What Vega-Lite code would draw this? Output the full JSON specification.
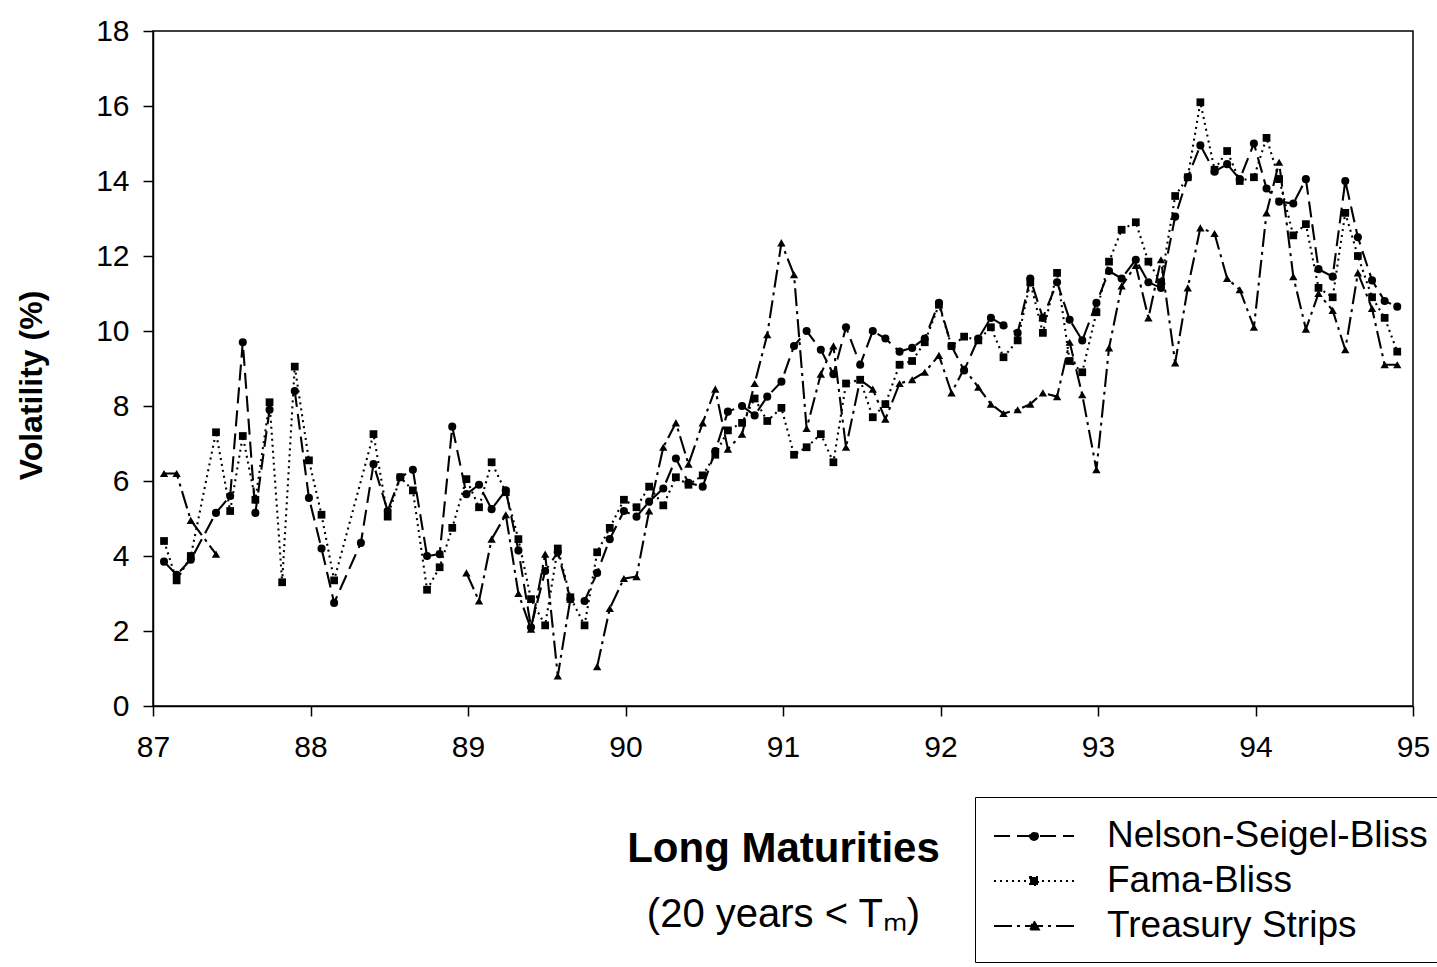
{
  "$schema": "https://vega.github.io/schema/vega-lite/v6.json",
  "autosize": {"type": "none"},
  "padding": {"left": 153, "top": 31, "right": 24, "bottom": 261},
  "width": 1260,
  "height": 675,
  "background": "white",
  "config": {
    "font": "Liberation Sans",
    "view": {"stroke": "black", "strokeWidth": 1.5},
    "axis": {"grid": false, "domainColor": "black", "domainWidth": 1.5, "tickColor": "black", "tickWidth": 1.5, "labelColor": "black", "titleColor": "black", "labelFont": "Liberation Sans", "titleFont": "Liberation Sans"}
  },
  "data": {"values": [
    {"t": 87.07, "s": "Nelson-Seigel-Bliss", "v": 3.85},
    {"t": 87.15, "s": "Nelson-Seigel-Bliss", "v": 3.5},
    {"t": 87.24, "s": "Nelson-Seigel-Bliss", "v": 3.9},
    {"t": 87.40, "s": "Nelson-Seigel-Bliss", "v": 5.15},
    {"t": 87.49, "s": "Nelson-Seigel-Bliss", "v": 5.6},
    {"t": 87.57, "s": "Nelson-Seigel-Bliss", "v": 9.7},
    {"t": 87.65, "s": "Nelson-Seigel-Bliss", "v": 5.15},
    {"t": 87.74, "s": "Nelson-Seigel-Bliss", "v": 7.9},
    {"t": 87.82, "s": "Nelson-Seigel-Bliss", "v": null},
    {"t": 87.90, "s": "Nelson-Seigel-Bliss", "v": 8.4},
    {"t": 87.99, "s": "Nelson-Seigel-Bliss", "v": 5.55},
    {"t": 88.07, "s": "Nelson-Seigel-Bliss", "v": 4.2},
    {"t": 88.15, "s": "Nelson-Seigel-Bliss", "v": 2.75},
    {"t": 88.32, "s": "Nelson-Seigel-Bliss", "v": 4.35},
    {"t": 88.40, "s": "Nelson-Seigel-Bliss", "v": 6.45},
    {"t": 88.49, "s": "Nelson-Seigel-Bliss", "v": 5.2},
    {"t": 88.57, "s": "Nelson-Seigel-Bliss", "v": 6.1},
    {"t": 88.65, "s": "Nelson-Seigel-Bliss", "v": 6.3},
    {"t": 88.74, "s": "Nelson-Seigel-Bliss", "v": 4.0},
    {"t": 88.82, "s": "Nelson-Seigel-Bliss", "v": 4.05},
    {"t": 88.90, "s": "Nelson-Seigel-Bliss", "v": 7.45},
    {"t": 88.99, "s": "Nelson-Seigel-Bliss", "v": 5.65},
    {"t": 89.07, "s": "Nelson-Seigel-Bliss", "v": 5.9},
    {"t": 89.15, "s": "Nelson-Seigel-Bliss", "v": 5.25},
    {"t": 89.24, "s": "Nelson-Seigel-Bliss", "v": 5.75},
    {"t": 89.32, "s": "Nelson-Seigel-Bliss", "v": 4.15},
    {"t": 89.40, "s": "Nelson-Seigel-Bliss", "v": 2.1},
    {"t": 89.49, "s": "Nelson-Seigel-Bliss", "v": 3.6},
    {"t": 89.57, "s": "Nelson-Seigel-Bliss", "v": 4.1},
    {"t": 89.65, "s": "Nelson-Seigel-Bliss", "v": 2.85},
    {"t": 89.74, "s": "Nelson-Seigel-Bliss", "v": 2.8},
    {"t": 89.82, "s": "Nelson-Seigel-Bliss", "v": 3.55},
    {"t": 89.90, "s": "Nelson-Seigel-Bliss", "v": 4.45},
    {"t": 89.99, "s": "Nelson-Seigel-Bliss", "v": 5.2},
    {"t": 90.07, "s": "Nelson-Seigel-Bliss", "v": 5.05},
    {"t": 90.15, "s": "Nelson-Seigel-Bliss", "v": 5.45},
    {"t": 90.24, "s": "Nelson-Seigel-Bliss", "v": 5.8},
    {"t": 90.32, "s": "Nelson-Seigel-Bliss", "v": 6.6},
    {"t": 90.40, "s": "Nelson-Seigel-Bliss", "v": 5.95},
    {"t": 90.49, "s": "Nelson-Seigel-Bliss", "v": 5.85},
    {"t": 90.57, "s": "Nelson-Seigel-Bliss", "v": 6.8},
    {"t": 90.65, "s": "Nelson-Seigel-Bliss", "v": 7.85},
    {"t": 90.74, "s": "Nelson-Seigel-Bliss", "v": 8.0},
    {"t": 90.82, "s": "Nelson-Seigel-Bliss", "v": 7.75},
    {"t": 90.90, "s": "Nelson-Seigel-Bliss", "v": 8.25},
    {"t": 90.99, "s": "Nelson-Seigel-Bliss", "v": 8.65},
    {"t": 91.07, "s": "Nelson-Seigel-Bliss", "v": 9.6},
    {"t": 91.15, "s": "Nelson-Seigel-Bliss", "v": 10.0},
    {"t": 91.24, "s": "Nelson-Seigel-Bliss", "v": 9.5},
    {"t": 91.32, "s": "Nelson-Seigel-Bliss", "v": 8.85},
    {"t": 91.40, "s": "Nelson-Seigel-Bliss", "v": 10.1},
    {"t": 91.49, "s": "Nelson-Seigel-Bliss", "v": 9.1},
    {"t": 91.57, "s": "Nelson-Seigel-Bliss", "v": 10.0},
    {"t": 91.65, "s": "Nelson-Seigel-Bliss", "v": 9.8},
    {"t": 91.74, "s": "Nelson-Seigel-Bliss", "v": 9.45},
    {"t": 91.82, "s": "Nelson-Seigel-Bliss", "v": 9.55},
    {"t": 91.90, "s": "Nelson-Seigel-Bliss", "v": 9.8},
    {"t": 91.99, "s": "Nelson-Seigel-Bliss", "v": 10.75},
    {"t": 92.07, "s": "Nelson-Seigel-Bliss", "v": 9.6},
    {"t": 92.15, "s": "Nelson-Seigel-Bliss", "v": 8.95},
    {"t": 92.24, "s": "Nelson-Seigel-Bliss", "v": 9.8},
    {"t": 92.32, "s": "Nelson-Seigel-Bliss", "v": 10.35},
    {"t": 92.40, "s": "Nelson-Seigel-Bliss", "v": 10.15},
    {"t": 92.49, "s": "Nelson-Seigel-Bliss", "v": 9.95},
    {"t": 92.57, "s": "Nelson-Seigel-Bliss", "v": 11.4},
    {"t": 92.65, "s": "Nelson-Seigel-Bliss", "v": 10.35},
    {"t": 92.74, "s": "Nelson-Seigel-Bliss", "v": 11.3},
    {"t": 92.82, "s": "Nelson-Seigel-Bliss", "v": 10.3},
    {"t": 92.90, "s": "Nelson-Seigel-Bliss", "v": 9.75},
    {"t": 92.99, "s": "Nelson-Seigel-Bliss", "v": 10.75},
    {"t": 93.07, "s": "Nelson-Seigel-Bliss", "v": 11.6},
    {"t": 93.15, "s": "Nelson-Seigel-Bliss", "v": 11.4},
    {"t": 93.24, "s": "Nelson-Seigel-Bliss", "v": 11.9},
    {"t": 93.32, "s": "Nelson-Seigel-Bliss", "v": 11.3},
    {"t": 93.40, "s": "Nelson-Seigel-Bliss", "v": 11.15},
    {"t": 93.49, "s": "Nelson-Seigel-Bliss", "v": 13.05},
    {"t": 93.57, "s": "Nelson-Seigel-Bliss", "v": 14.1},
    {"t": 93.65, "s": "Nelson-Seigel-Bliss", "v": 14.95},
    {"t": 93.74, "s": "Nelson-Seigel-Bliss", "v": 14.25},
    {"t": 93.82, "s": "Nelson-Seigel-Bliss", "v": 14.45},
    {"t": 93.90, "s": "Nelson-Seigel-Bliss", "v": 14.05},
    {"t": 93.99, "s": "Nelson-Seigel-Bliss", "v": 15.0},
    {"t": 94.07, "s": "Nelson-Seigel-Bliss", "v": 13.8},
    {"t": 94.15, "s": "Nelson-Seigel-Bliss", "v": 13.45},
    {"t": 94.24, "s": "Nelson-Seigel-Bliss", "v": 13.4},
    {"t": 94.32, "s": "Nelson-Seigel-Bliss", "v": 14.05},
    {"t": 94.40, "s": "Nelson-Seigel-Bliss", "v": 11.65},
    {"t": 94.49, "s": "Nelson-Seigel-Bliss", "v": 11.45},
    {"t": 94.57, "s": "Nelson-Seigel-Bliss", "v": 14.0},
    {"t": 94.65, "s": "Nelson-Seigel-Bliss", "v": 12.5},
    {"t": 94.74, "s": "Nelson-Seigel-Bliss", "v": 11.35},
    {"t": 94.82, "s": "Nelson-Seigel-Bliss", "v": 10.8},
    {"t": 94.90, "s": "Nelson-Seigel-Bliss", "v": 10.65},

    {"t": 87.07, "s": "Fama-Bliss", "v": 4.4},
    {"t": 87.15, "s": "Fama-Bliss", "v": 3.35},
    {"t": 87.24, "s": "Fama-Bliss", "v": 4.0},
    {"t": 87.40, "s": "Fama-Bliss", "v": 7.3},
    {"t": 87.49, "s": "Fama-Bliss", "v": 5.2},
    {"t": 87.57, "s": "Fama-Bliss", "v": 7.2},
    {"t": 87.65, "s": "Fama-Bliss", "v": 5.5},
    {"t": 87.74, "s": "Fama-Bliss", "v": 8.1},
    {"t": 87.82, "s": "Fama-Bliss", "v": 3.3},
    {"t": 87.90, "s": "Fama-Bliss", "v": 9.05},
    {"t": 87.99, "s": "Fama-Bliss", "v": 6.55},
    {"t": 88.07, "s": "Fama-Bliss", "v": 5.1},
    {"t": 88.15, "s": "Fama-Bliss", "v": 3.35},
    {"t": 88.40, "s": "Fama-Bliss", "v": 7.25},
    {"t": 88.49, "s": "Fama-Bliss", "v": 5.05},
    {"t": 88.57, "s": "Fama-Bliss", "v": 6.1},
    {"t": 88.65, "s": "Fama-Bliss", "v": 5.75},
    {"t": 88.74, "s": "Fama-Bliss", "v": 3.1},
    {"t": 88.82, "s": "Fama-Bliss", "v": 3.7},
    {"t": 88.90, "s": "Fama-Bliss", "v": 4.75},
    {"t": 88.99, "s": "Fama-Bliss", "v": 6.05},
    {"t": 89.07, "s": "Fama-Bliss", "v": 5.3},
    {"t": 89.15, "s": "Fama-Bliss", "v": 6.5},
    {"t": 89.24, "s": "Fama-Bliss", "v": 5.7},
    {"t": 89.32, "s": "Fama-Bliss", "v": 4.45},
    {"t": 89.40, "s": "Fama-Bliss", "v": 2.85},
    {"t": 89.49, "s": "Fama-Bliss", "v": 2.15},
    {"t": 89.57, "s": "Fama-Bliss", "v": 4.2},
    {"t": 89.65, "s": "Fama-Bliss", "v": 2.9},
    {"t": 89.74, "s": "Fama-Bliss", "v": 2.15},
    {"t": 89.82, "s": "Fama-Bliss", "v": 4.1},
    {"t": 89.90, "s": "Fama-Bliss", "v": 4.75},
    {"t": 89.99, "s": "Fama-Bliss", "v": 5.5},
    {"t": 90.07, "s": "Fama-Bliss", "v": 5.3},
    {"t": 90.15, "s": "Fama-Bliss", "v": 5.85},
    {"t": 90.24, "s": "Fama-Bliss", "v": 5.35},
    {"t": 90.32, "s": "Fama-Bliss", "v": 6.1},
    {"t": 90.40, "s": "Fama-Bliss", "v": 5.9},
    {"t": 90.49, "s": "Fama-Bliss", "v": 6.15},
    {"t": 90.57, "s": "Fama-Bliss", "v": 6.7},
    {"t": 90.65, "s": "Fama-Bliss", "v": 7.35},
    {"t": 90.74, "s": "Fama-Bliss", "v": 7.55},
    {"t": 90.82, "s": "Fama-Bliss", "v": 8.2},
    {"t": 90.90, "s": "Fama-Bliss", "v": 7.6},
    {"t": 90.99, "s": "Fama-Bliss", "v": 7.95},
    {"t": 91.07, "s": "Fama-Bliss", "v": 6.7},
    {"t": 91.15, "s": "Fama-Bliss", "v": 6.9},
    {"t": 91.24, "s": "Fama-Bliss", "v": 7.25},
    {"t": 91.32, "s": "Fama-Bliss", "v": 6.5},
    {"t": 91.40, "s": "Fama-Bliss", "v": 8.6},
    {"t": 91.49, "s": "Fama-Bliss", "v": 8.7},
    {"t": 91.57, "s": "Fama-Bliss", "v": 7.7},
    {"t": 91.65, "s": "Fama-Bliss", "v": 8.05},
    {"t": 91.74, "s": "Fama-Bliss", "v": 9.1},
    {"t": 91.82, "s": "Fama-Bliss", "v": 9.2},
    {"t": 91.90, "s": "Fama-Bliss", "v": 9.7},
    {"t": 91.99, "s": "Fama-Bliss", "v": 10.7},
    {"t": 92.07, "s": "Fama-Bliss", "v": 9.6},
    {"t": 92.15, "s": "Fama-Bliss", "v": 9.85},
    {"t": 92.24, "s": "Fama-Bliss", "v": 9.75},
    {"t": 92.32, "s": "Fama-Bliss", "v": 10.1},
    {"t": 92.40, "s": "Fama-Bliss", "v": 9.3},
    {"t": 92.49, "s": "Fama-Bliss", "v": 9.75},
    {"t": 92.57, "s": "Fama-Bliss", "v": 11.3},
    {"t": 92.65, "s": "Fama-Bliss", "v": 9.95},
    {"t": 92.74, "s": "Fama-Bliss", "v": 11.55},
    {"t": 92.82, "s": "Fama-Bliss", "v": 9.2},
    {"t": 92.90, "s": "Fama-Bliss", "v": 8.9},
    {"t": 92.99, "s": "Fama-Bliss", "v": 10.5},
    {"t": 93.07, "s": "Fama-Bliss", "v": 11.85},
    {"t": 93.15, "s": "Fama-Bliss", "v": 12.7},
    {"t": 93.24, "s": "Fama-Bliss", "v": 12.9},
    {"t": 93.32, "s": "Fama-Bliss", "v": 11.85},
    {"t": 93.40, "s": "Fama-Bliss", "v": 11.3},
    {"t": 93.49, "s": "Fama-Bliss", "v": 13.6},
    {"t": 93.57, "s": "Fama-Bliss", "v": 14.1},
    {"t": 93.65, "s": "Fama-Bliss", "v": 16.1},
    {"t": 93.74, "s": "Fama-Bliss", "v": 14.3},
    {"t": 93.82, "s": "Fama-Bliss", "v": 14.8},
    {"t": 93.90, "s": "Fama-Bliss", "v": 14.0},
    {"t": 93.99, "s": "Fama-Bliss", "v": 14.1},
    {"t": 94.07, "s": "Fama-Bliss", "v": 15.15},
    {"t": 94.15, "s": "Fama-Bliss", "v": 14.05},
    {"t": 94.24, "s": "Fama-Bliss", "v": 12.55},
    {"t": 94.32, "s": "Fama-Bliss", "v": 12.85},
    {"t": 94.40, "s": "Fama-Bliss", "v": 11.15},
    {"t": 94.49, "s": "Fama-Bliss", "v": 10.9},
    {"t": 94.57, "s": "Fama-Bliss", "v": 13.15},
    {"t": 94.65, "s": "Fama-Bliss", "v": 12.0},
    {"t": 94.74, "s": "Fama-Bliss", "v": 10.9},
    {"t": 94.82, "s": "Fama-Bliss", "v": 10.35},
    {"t": 94.90, "s": "Fama-Bliss", "v": 9.45},

    {"t": 87.07, "s": "Treasury Strips", "v": 6.2},
    {"t": 87.15, "s": "Treasury Strips", "v": 6.2},
    {"t": 87.24, "s": "Treasury Strips", "v": 4.95},
    {"t": 87.40, "s": "Treasury Strips", "v": 4.05},
    {"t": 87.49, "s": "Treasury Strips", "v": null},
    {"t": 88.99, "s": "Treasury Strips", "v": 3.55},
    {"t": 89.07, "s": "Treasury Strips", "v": 2.8},
    {"t": 89.15, "s": "Treasury Strips", "v": 4.45},
    {"t": 89.24, "s": "Treasury Strips", "v": 5.1},
    {"t": 89.32, "s": "Treasury Strips", "v": 3.0},
    {"t": 89.40, "s": "Treasury Strips", "v": 2.05},
    {"t": 89.49, "s": "Treasury Strips", "v": 4.05},
    {"t": 89.57, "s": "Treasury Strips", "v": 0.8},
    {"t": 89.65, "s": "Treasury Strips", "v": 2.85},
    {"t": 89.74, "s": "Treasury Strips", "v": null},
    {"t": 89.82, "s": "Treasury Strips", "v": 1.05},
    {"t": 89.90, "s": "Treasury Strips", "v": 2.6},
    {"t": 89.99, "s": "Treasury Strips", "v": 3.4},
    {"t": 90.07, "s": "Treasury Strips", "v": 3.45},
    {"t": 90.15, "s": "Treasury Strips", "v": 5.2},
    {"t": 90.24, "s": "Treasury Strips", "v": 6.9},
    {"t": 90.32, "s": "Treasury Strips", "v": 7.55},
    {"t": 90.40, "s": "Treasury Strips", "v": 6.45},
    {"t": 90.49, "s": "Treasury Strips", "v": 7.55},
    {"t": 90.57, "s": "Treasury Strips", "v": 8.45},
    {"t": 90.65, "s": "Treasury Strips", "v": 6.85},
    {"t": 90.74, "s": "Treasury Strips", "v": 7.25},
    {"t": 90.82, "s": "Treasury Strips", "v": 8.6},
    {"t": 90.90, "s": "Treasury Strips", "v": 9.9},
    {"t": 90.99, "s": "Treasury Strips", "v": 12.35},
    {"t": 91.07, "s": "Treasury Strips", "v": 11.5},
    {"t": 91.15, "s": "Treasury Strips", "v": 7.4},
    {"t": 91.24, "s": "Treasury Strips", "v": 8.85},
    {"t": 91.32, "s": "Treasury Strips", "v": 9.6},
    {"t": 91.40, "s": "Treasury Strips", "v": 6.9},
    {"t": 91.49, "s": "Treasury Strips", "v": 8.7},
    {"t": 91.57, "s": "Treasury Strips", "v": 8.45},
    {"t": 91.65, "s": "Treasury Strips", "v": 7.65},
    {"t": 91.74, "s": "Treasury Strips", "v": 8.6},
    {"t": 91.82, "s": "Treasury Strips", "v": 8.7},
    {"t": 91.90, "s": "Treasury Strips", "v": 8.9},
    {"t": 91.99, "s": "Treasury Strips", "v": 9.35},
    {"t": 92.07, "s": "Treasury Strips", "v": 8.35},
    {"t": 92.15, "s": "Treasury Strips", "v": 9.0},
    {"t": 92.24, "s": "Treasury Strips", "v": 8.5},
    {"t": 92.32, "s": "Treasury Strips", "v": 8.05},
    {"t": 92.40, "s": "Treasury Strips", "v": 7.8},
    {"t": 92.49, "s": "Treasury Strips", "v": 7.9},
    {"t": 92.57, "s": "Treasury Strips", "v": 8.05},
    {"t": 92.65, "s": "Treasury Strips", "v": 8.35},
    {"t": 92.74, "s": "Treasury Strips", "v": 8.25},
    {"t": 92.82, "s": "Treasury Strips", "v": 9.7},
    {"t": 92.90, "s": "Treasury Strips", "v": 8.3},
    {"t": 92.99, "s": "Treasury Strips", "v": 6.3},
    {"t": 93.07, "s": "Treasury Strips", "v": 9.55},
    {"t": 93.15, "s": "Treasury Strips", "v": 11.2},
    {"t": 93.24, "s": "Treasury Strips", "v": 11.75},
    {"t": 93.32, "s": "Treasury Strips", "v": 10.35},
    {"t": 93.40, "s": "Treasury Strips", "v": 11.9},
    {"t": 93.49, "s": "Treasury Strips", "v": 9.15},
    {"t": 93.57, "s": "Treasury Strips", "v": 11.15},
    {"t": 93.65, "s": "Treasury Strips", "v": 12.75},
    {"t": 93.74, "s": "Treasury Strips", "v": 12.6},
    {"t": 93.82, "s": "Treasury Strips", "v": 11.4},
    {"t": 93.90, "s": "Treasury Strips", "v": 11.1},
    {"t": 93.99, "s": "Treasury Strips", "v": 10.1},
    {"t": 94.07, "s": "Treasury Strips", "v": 13.15},
    {"t": 94.15, "s": "Treasury Strips", "v": 14.5},
    {"t": 94.24, "s": "Treasury Strips", "v": 11.45},
    {"t": 94.32, "s": "Treasury Strips", "v": 10.05},
    {"t": 94.40, "s": "Treasury Strips", "v": 11.0},
    {"t": 94.49, "s": "Treasury Strips", "v": 10.55},
    {"t": 94.57, "s": "Treasury Strips", "v": 9.5},
    {"t": 94.65, "s": "Treasury Strips", "v": 11.55},
    {"t": 94.74, "s": "Treasury Strips", "v": 10.6},
    {"t": 94.82, "s": "Treasury Strips", "v": 9.1},
    {"t": 94.90, "s": "Treasury Strips", "v": 9.1}
  ]},
  "encoding": {
    "y": {
      "field": "v", "type": "quantitative",
      "scale": {"domain": [0, 18], "nice": false},
      "axis": {"title": "Volatility (%)", "values": [0, 2, 4, 6, 8, 10, 12, 14, 16, 18], "labelFontSize": 30, "tickSize": 10, "labelPadding": 14, "titleFontSize": 32, "titleFontWeight": "bold", "titlePadding": 47, "titleY": 354, "labelOverlap": false}
    }
  },
  "layer": [
    {
      "mark": {"type": "line", "color": "black", "strokeWidth": 2.1, "invalid": "break-paths-filter-domains"},
      "encoding": {
        "x": {
          "field": "t", "type": "quantitative",
          "scale": {"domain": [87, 95], "nice": false, "zero": false},
          "axis": {"orient": "bottom", "title": "Long Maturities", "titleFontSize": 42, "titleFontWeight": "bold", "titlePadding": 66, "values": [87, 88, 89, 90, 91, 92, 93, 94, 95], "format": "d", "labelFontSize": 30, "tickSize": 10, "labelPadding": 16, "labelFlush": false, "labelOverlap": false}
        },
        "strokeDash": {
          "field": "s", "type": "nominal",
          "scale": {"domain": ["Nelson-Seigel-Bliss", "Fama-Bliss", "Treasury Strips"], "range": [[16, 7], [2, 4], [18, 5, 3, 5]]},
          "legend": {
            "title": null,
            "orient": "none",
            "legendX": 822,
            "legendY": 766,
            "direction": "vertical",
            "symbolType": "M-1,0H3",
            "symbolSize": 1600,
            "symbolStrokeWidth": 2,
            "symbolStrokeColor": "black",
            "symbolFillColor": "black",
            "labelFontSize": 37,
            "labelFont": "Liberation Sans",
            "labelColor": "black",
            "labelOffset": 72,
            "labelLimit": 600,
            "padding": 18,
            "rowPadding": 6,
            "strokeColor": "black",
            "fillColor": "white",
            "encode": {
              "symbols": {
                "update": {
                  "shape": {"signal": "datum.value === 'Fama-Bliss' ? 'M-1,0H3M0.8,-0.2h0.4v0.4h-0.4z' : datum.value === 'Treasury Strips' ? 'M-1,0H3M1,-0.24L1.24,0.18L0.76,0.18Z' : 'M-1,0H3M0.8,0a0.2,0.2 0 1,0 0.4,0a0.2,0.2 0 1,0 -0.4,0'"},
                  "fill": {"value": "black"},
                  "stroke": {"value": "black"}
                }
              }
            }
          }
        }
      }
    },
    {
      "transform": [{"filter": {"field": "s", "equal": "Nelson-Seigel-Bliss"}}],
      "mark": {"type": "point", "shape": "circle", "filled": true, "color": "black", "opacity": 1, "size": 65},
      "encoding": {
        "x": {
          "field": "t", "type": "quantitative",
          "scale": {"domain": [87, 95], "nice": false, "zero": false},
          "axis": {"orient": "bottom", "title": "(20 years < Tₘ)", "titleFontSize": 40, "titleFontWeight": "normal", "titlePadding": 188, "labels": false, "ticks": false, "domain": false}
        }
      }
    },
    {
      "transform": [{"filter": {"field": "s", "equal": "Fama-Bliss"}}],
      "mark": {"type": "point", "shape": "square", "filled": true, "color": "black", "opacity": 1, "size": 60},
      "encoding": {
        "x": {"field": "t", "type": "quantitative", "scale": {"domain": [87, 95], "nice": false, "zero": false}, "axis": null}
      }
    },
    {
      "transform": [{"filter": {"field": "s", "equal": "Treasury Strips"}}],
      "mark": {"type": "point", "shape": "triangle-up", "filled": true, "color": "black", "opacity": 1, "size": 70},
      "encoding": {
        "x": {"field": "t", "type": "quantitative", "scale": {"domain": [87, 95], "nice": false, "zero": false}, "axis": null}
      }
    }
  ],
  "resolve": {"axis": {"x": "independent"}}
}
